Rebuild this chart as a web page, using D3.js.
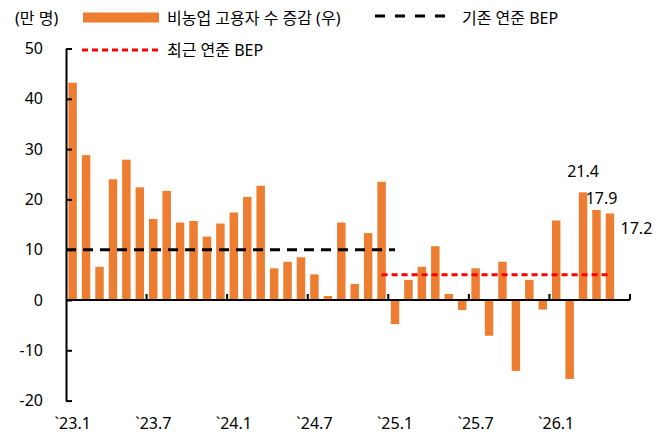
<!DOCTYPE html>
<meta charset="utf-8">
<style>
  body { margin: 0; background: #fff; }
  text { font-family: "Noto Sans", "Noto Sans CJK KR", sans-serif; fill: #000; }
</style>
<script src="https://d3js.org/d3.v7.min.js"></script>
<div id="chart"></div>
<script>
// months shown on the axis (23.1 .. 26.6), bars only up to 26.5
var months = [];
["23", "24", "25", "26"].forEach(function(yy) {
  for (var m = 1; m <= 12; m++) {
    if (yy === "26" && m > 6) break;
    months.push(yy + "." + m);
  }
});

// 비농업 고용자 수 증감 (만 명)
var values = [43.2, 28.8, 6.6, 24.0, 27.9, 22.4, 16.1, 21.7, 15.4, 15.7, 12.6, 15.2,
              17.4, 20.5, 22.7, 6.3, 7.6, 8.5, 5.1, 0.8, 15.4, 3.2, 13.3, 23.5,
              -4.8, 4.0, 6.6, 10.7, 1.2, -2.0, 6.3, -7.1, 7.6, -14.1, 4.0, -1.9,
              15.8, -15.7, 21.4, 17.9, 17.2];

var yTicks = [-20, -10, 0, 10, 20, 30, 40, 50];
var xLabelMonths = ["23.1", "23.7", "24.1", "24.7", "25.1", "25.7", "26.1"];

// BEP lines: value, from, to
var oldBep = {value: 10, from: "23.1", to: "25.1"};
var newBep = {value: 5, from: "24.12", to: "26.5"};

// labelled values
var labelled = [
  {m: "26.3", text: "21.4"},
  {m: "26.4", text: "17.9"},
  {m: "26.5", text: "17.2"}
];

var W = 660, H = 440;
var mLeft = 66, mRight = 630, mTop = 48.5, mBottom = 400.6;

var svg = d3.select("#chart").append("svg")
  .attr("width", W).attr("height", H);

var x = d3.scaleBand().domain(months).range([mLeft, mRight]).paddingInner(0.37).paddingOuter(0.18);
var xb = d3.scaleBand().domain(months).range([mLeft, mRight]);
var y = d3.scaleLinear().domain([-20, 50]).range([mBottom, mTop]);

// bars
svg.append("g").selectAll("rect")
  .data(values)
  .enter().append("rect")
    .attr("x", function(d, i) { return x(months[i]); })
    .attr("width", x.bandwidth())
    .attr("y", function(d) { return d >= 0 ? y(d) : y(0); })
    .attr("height", function(d) { return Math.abs(y(d) - y(0)); })
    .attr("fill", "#ED7D31");

// y axis
var yAxis = svg.append("g")
  .attr("transform", "translate(" + mLeft + ",0)")
  .call(d3.axisLeft(y).tickValues(yTicks).tickSize(-6).tickPadding(23).tickSizeOuter(0));
yAxis.select(".domain").attr("stroke-width", 2);
yAxis.selectAll(".tick line").attr("stroke-width", 2);
yAxis.selectAll("text").style("font-size", "16px")
  .style("font-family", "'Noto Sans', sans-serif")
  .text(function(d) { return d < 0 ? "-" + Math.abs(d) : d; });

// x axis line with inward ticks at half-year boundaries
var xg = svg.append("g");
xg.append("line")
  .attr("x1", mLeft).attr("x2", mRight)
  .attr("y1", y(0)).attr("y2", y(0))
  .attr("stroke", "#000").attr("stroke-width", 2);
var tickPos = months.filter(function(d, i) { return i > 0 && i % 6 === 0; })
  .map(function(m) { return xb(m); });
tickPos.push(mRight);
xg.selectAll("line.tk").data(tickPos).enter().append("line")
  .attr("class", "tk")
  .attr("x1", function(d) { return d; }).attr("x2", function(d) { return d; })
  .attr("y1", y(0)).attr("y2", y(0) - 6)
  .attr("stroke", "#000").attr("stroke-width", 2);

svg.append("g").selectAll("text")
  .data(xLabelMonths)
  .enter().append("text")
    .attr("x", function(d) { return xb(d) + xb.bandwidth() / 2; })
    .attr("y", 429)
    .attr("text-anchor", "middle")
    .style("font-size", "16px")
    .text(function(d) { return "`" + d; });

// BEP lines
svg.append("line")
  .attr("x1", mLeft).attr("x2", xb(oldBep.to) + xb.bandwidth() / 2)
  .attr("y1", y(oldBep.value)).attr("y2", y(oldBep.value))
  .attr("stroke", "#000").attr("stroke-width", 3).attr("stroke-dasharray", "10,7");

svg.append("line")
  .attr("x1", xb(newBep.from) + xb.bandwidth() / 2).attr("x2", xb(newBep.to) + xb.bandwidth() / 2)
  .attr("y1", y(newBep.value)).attr("y2", y(newBep.value))
  .attr("stroke", "#FF0000").attr("stroke-width", 3).attr("stroke-dasharray", "6,4");

// value labels
var lab = svg.append("g").style("font-size", "16px");
lab.append("text")
  .attr("x", xb(labelled[0].m) + xb.bandwidth() / 2).attr("y", 177)
  .attr("text-anchor", "middle").text(labelled[0].text);
lab.append("text")
  .attr("x", xb(labelled[1].m) - 4).attr("y", 204)
  .text(labelled[1].text);
lab.append("text")
  .attr("x", xb(labelled[2].m) + xb.bandwidth() + 4).attr("y", 234)
  .text(labelled[2].text);

// legend
var lg = svg.append("g").style("font-size", "16px");
lg.append("text").attr("x", 15).attr("y", 24).text("(만 명)");
lg.append("rect").attr("x", 83).attr("y", 12.5).attr("width", 76).attr("height", 10).attr("fill", "#ED7D31");
lg.append("text").attr("x", 167).attr("y", 24).text("비농업 고용자 수 증감 (우)");
lg.append("line").attr("x1", 375).attr("x2", 447).attr("y1", 16).attr("y2", 16)
  .attr("stroke", "#000").attr("stroke-width", 3).attr("stroke-dasharray", "10,10");
lg.append("text").attr("x", 462).attr("y", 24).text("기존 연준 BEP");
lg.append("line").attr("x1", 82).attr("x2", 158).attr("y1", 50).attr("y2", 50)
  .attr("stroke", "#FF0000").attr("stroke-width", 3).attr("stroke-dasharray", "6,4");
lg.append("text").attr("x", 167).attr("y", 56).text("최근 연준 BEP");
</script>
